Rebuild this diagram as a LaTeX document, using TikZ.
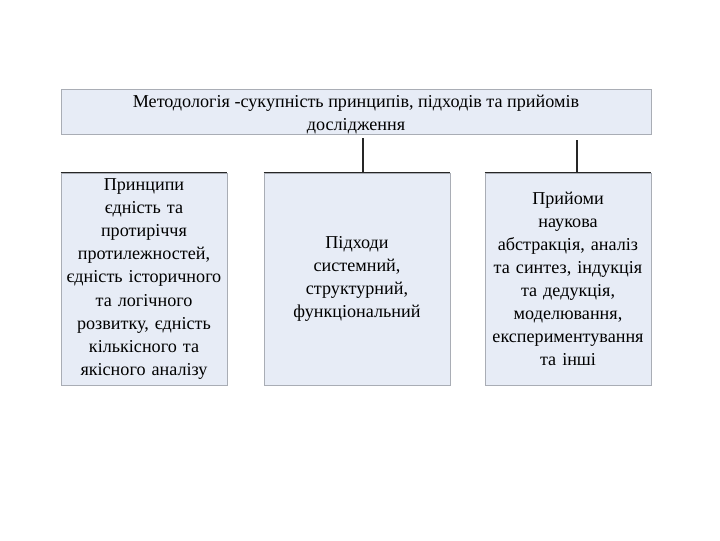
\documentclass[tikz,border=0pt]{standalone}
\usepackage{fontspec}
\setmainfont{Liberation Serif}
\usetikzlibrary{calc}

\definecolor{boxfill}{HTML}{E7ECF6}
\definecolor{boxline}{HTML}{A9ADB5}

\tikzset{
    txt/.style={align=center, inner sep=0pt, font=\fontsize{13.6}{17.3}\selectfont},
    block/.style={txt, fill=boxfill, draw=boxline, line width=0.5pt},
    link/.style={line width=0.8pt, black!85}
}

\begin{document}
\begin{tikzpicture}[x=0.75pt, y=-0.75pt]
    \useasboundingbox (0,0) rectangle (720,540);

    % title
    \node[block, minimum width=442.5pt, minimum height=33.75pt] (title) at (356,111.5) {};
    \node[txt] (titletext) at (356,114.5)
        {Методологія -сукупність принципів, підходів та прийомів\\ дослідження};

    % three groups
    \node[block, minimum width=124.5pt, minimum height=159pt, text width=124pt] (princ) at (144,279)
        {Принципи\\ єдність та\\ протиріччя\\ протилежностей,\\ єдність історичного\\ та логічного\\ розвитку, єдність\\ кількісного та\\ якісного аналізу};
    \node[block, minimum width=139.5pt, minimum height=159pt, text width=130pt] (appr) at (357,279)
        {Підходи\\ системний,\\ структурний,\\ функціональний};
    \node[block, minimum width=124.5pt, minimum height=159pt, text width=124pt] (meth) at (568,279)
        {Прийоми\\ наукова\\ абстракція, аналіз\\ та синтез, індукція\\ та дедукція,\\ моделювання,\\ експериментування\\ та інші};

    % dark top edges
    \foreach \b in {princ, appr, meth}
        \draw[link] (\b.north west) -- (\b.north east);

    % connectors
    \coordinate (c1) at (363,138);
    \coordinate (c2) at (577,140);
    \draw[link] (c1) -- (c1 |- appr.north);
    \draw[link] (c2) -- (c2 |- meth.north);
\end{tikzpicture}
\end{document}
